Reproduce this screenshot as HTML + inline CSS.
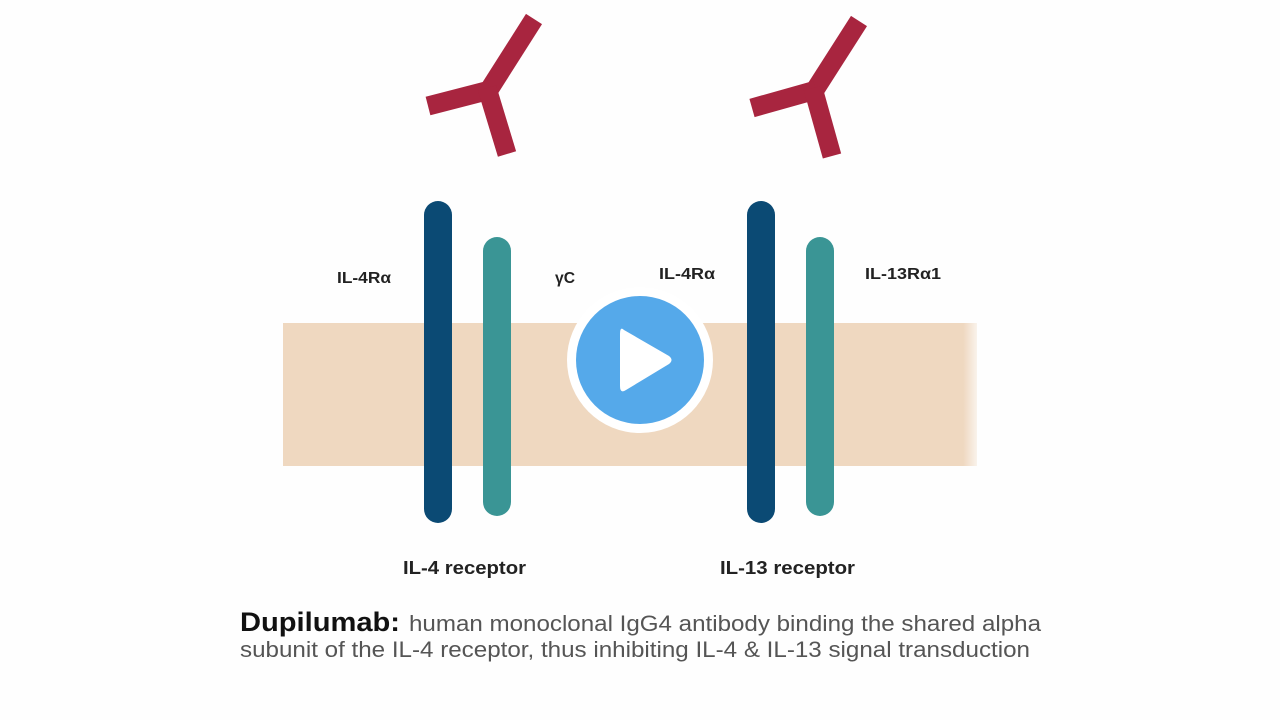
<!DOCTYPE html>
<html><head><meta charset="utf-8"><style>
html,body{margin:0;padding:0;background:#fff;}
svg{display:block;}
text{font-family:"Liberation Sans",sans-serif;}
</style></head><body>
<svg width="1280" height="720" viewBox="0 0 1280 720" xmlns="http://www.w3.org/2000/svg">
<defs>
<linearGradient id="mem" x1="0" x2="1" y1="0" y2="0">
<stop offset="0" stop-color="#efd8c0"/>
<stop offset="0.98" stop-color="#efd8c0"/>
<stop offset="1" stop-color="#efd8c0" stop-opacity="0.3"/>
</linearGradient>
</defs>
<rect x="0" y="0" width="1280" height="720" fill="#fefefe"/>
<rect x="283" y="323" width="694" height="143" fill="url(#mem)"/>
<g stroke="#a8253f" stroke-width="19" stroke-linecap="butt" fill="none">
<line x1="487" y1="93" x2="534" y2="19"/>
<line x1="490" y1="90" x2="428" y2="106"/>
<line x1="487" y1="88" x2="507" y2="154"/>
<line x1="813" y1="93" x2="859" y2="21"/>
<line x1="816" y1="90" x2="752" y2="108"/>
<line x1="813" y1="88" x2="832" y2="156"/>
</g>
<rect x="424" y="201" width="28" height="322" rx="14" fill="#0b4a74"/>
<rect x="483" y="237" width="28" height="279" rx="14" fill="#3a9595"/>
<rect x="747" y="201" width="28" height="322" rx="14" fill="#0b4a74"/>
<rect x="806" y="237" width="28" height="279" rx="14" fill="#3a9595"/>
<g font-weight="bold" font-size="16" fill="#222">
<text x="337" y="283" textLength="54" lengthAdjust="spacingAndGlyphs">IL-4Rα</text>
<text x="555" y="283" textLength="20" lengthAdjust="spacingAndGlyphs">γC</text>
<text x="659" y="279" textLength="56" lengthAdjust="spacingAndGlyphs">IL-4Rα</text>
<text x="865" y="279" textLength="76" lengthAdjust="spacingAndGlyphs">IL-13Rα1</text>
<text x="403" y="574" font-size="18" textLength="123" lengthAdjust="spacingAndGlyphs">IL-4 receptor</text>
<text x="720" y="574" font-size="18" textLength="135" lengthAdjust="spacingAndGlyphs">IL-13 receptor</text>
</g>
<circle cx="640" cy="360" r="73" fill="#fff"/>
<circle cx="640" cy="360" r="64" fill="#55a9ea"/>
<path d="M624 330 Q620 326 620 334 L620 386 Q620 394 626 390 L669 364 Q674 360 669 356 Z" fill="#fff"/>
<text x="240" y="631" font-size="27" font-weight="bold" fill="#111" textLength="160" lengthAdjust="spacingAndGlyphs">Dupilumab:</text>
<text x="409" y="631" font-size="22" fill="#555" textLength="632" lengthAdjust="spacingAndGlyphs">human monoclonal IgG4 antibody binding the shared alpha</text>
<text x="240" y="657" font-size="22" fill="#555" textLength="790" lengthAdjust="spacingAndGlyphs">subunit of the IL-4 receptor, thus inhibiting IL-4 &amp; IL-13 signal transduction</text>
</svg>
</body></html>
